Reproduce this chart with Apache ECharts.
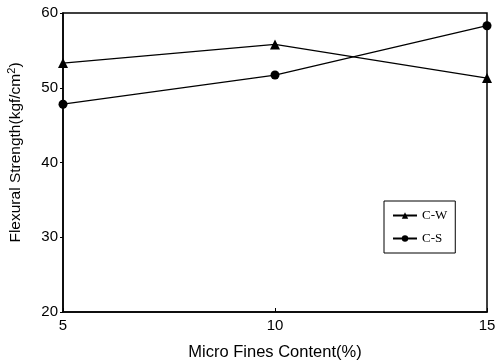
<!DOCTYPE html>
<html><head><meta charset="utf-8">
<script src="https://cdn.jsdelivr.net/npm/echarts@6/dist/echarts.min.js"></script>
<style>html,body{margin:0;padding:0;background:#fff}#c{width:496px;height:364px}</style>
</head><body><div id="c"></div>
<script>
var xValues = [5, 10, 15];
var cwValues = [53.3, 55.8, 51.3];
var csValues = [47.8, 51.7, 58.3];
var yTicks = [20, 30, 40, 50, 60];
var xTicks = [5, 10, 15];

function pairs(v){ return xValues.map(function(x,i){ return [x, v[i]]; }); }

var chart = echarts.init(document.getElementById('c'), null, {renderer:'canvas'});
var axisFont = 'Liberation Sans';
chart.setOption({
  animation:false,
  backgroundColor:'#fff',
  grid:{left:63, right:9, top:13, bottom:52, show:true, borderColor:'#000', borderWidth:1.5,
        containLabel:false, outerBoundsMode:'none'},
  legend:{
    orient:'vertical', left:384, top:201, width:73,
    padding:[8,8,8,8], itemGap:10,
    borderColor:'#000', borderWidth:1, borderRadius:0,
    itemWidth:24, itemHeight:8,
    textStyle:{fontFamily:'Liberation Serif', fontSize:13, color:'#000'},
    data:['C-W','C-S']
  },
  xAxis:{
    type:'value', min:5, max:15, interval:5,
    name:'Micro Fines Content(%)', nameLocation:'middle', nameGap:32,
    nameTextStyle:{fontFamily:axisFont, fontSize:16.5, color:'#000'},
    axisLine:{lineStyle:{color:'#000', width:1.5}},
    axisTick:{show:true, length:4, inside:true, lineStyle:{color:'#000'}},
    axisLabel:{fontFamily:axisFont, fontSize:15, color:'#000', margin:6,
      formatter:function(v){ return xTicks.indexOf(v)>=0 ? String(v) : ''; }},
    splitLine:{show:false}
  },
  yAxis:{
    type:'value', min:20, max:60, interval:10,
    name:'{a|Flexural Strength(kgf/cm}{s|2}{a|)}', nameLocation:'middle', nameGap:38,
    nameTextStyle:{padding:[0,0,0,20], rich:{
      a:{fontFamily:axisFont, fontSize:15.5, color:'#000'},
      s:{fontFamily:axisFont, fontSize:11, color:'#000', verticalAlign:'top', padding:[0,0,8,0]}
    }},
    axisLine:{lineStyle:{color:'#000', width:1.5}},
    axisTick:{show:true, length:3, lineStyle:{color:'#000'}},
    axisLabel:{fontFamily:axisFont, fontSize:15, color:'#000', margin:5,
      formatter:function(v){ return yTicks.indexOf(v)>=0 ? String(v) : ''; }},
    splitLine:{show:false}
  },
  series:[
    {name:'C-W', type:'line', data:pairs(cwValues), symbol:'triangle', symbolSize:10,
     lineStyle:{color:'#000', width:1.3}, itemStyle:{color:'#000'}, color:'#000'},
    {name:'C-S', type:'line', data:pairs(csValues), symbol:'circle', symbolSize:9,
     lineStyle:{color:'#000', width:1.3}, itemStyle:{color:'#000'}, color:'#000'}
  ]
});
</script></body></html>
